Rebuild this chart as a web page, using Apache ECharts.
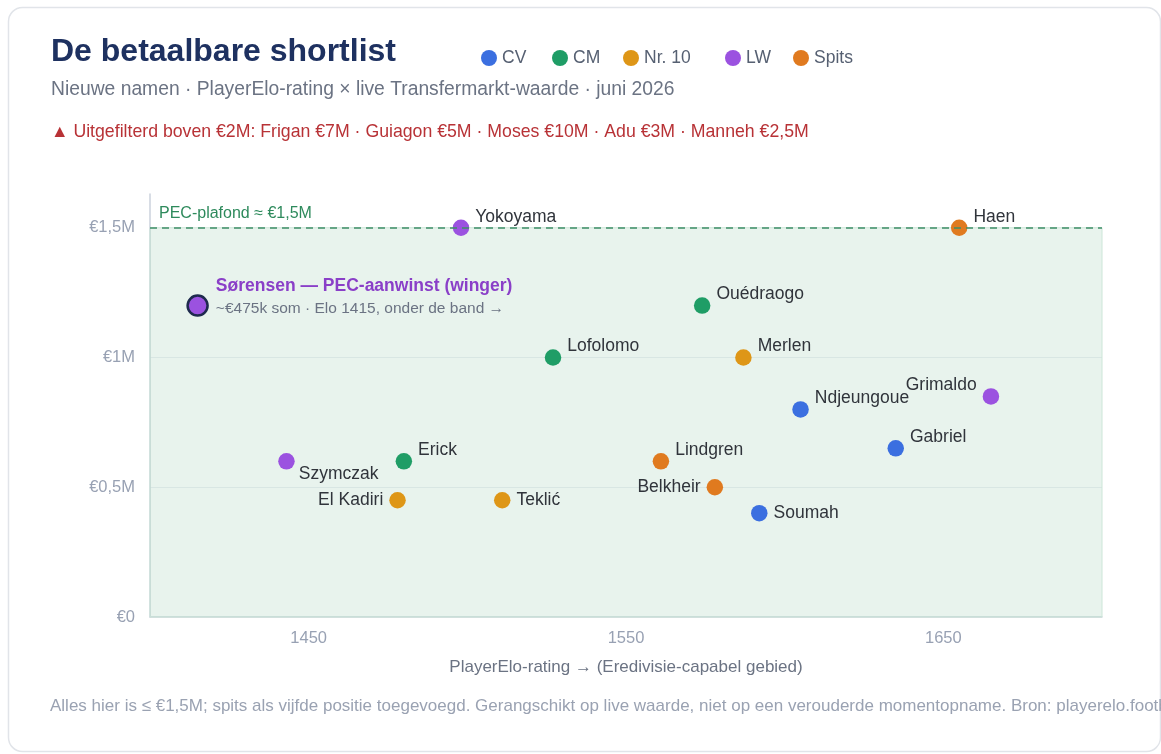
<!DOCTYPE html>
<html>
<head>
<meta charset="utf-8">
<script src="https://cdn.jsdelivr.net/npm/echarts@6/dist/echarts.min.js"></script>
<style>
  html, body { margin: 0; padding: 0; background: #fff; }
  #chart { width: 1161px; height: 754px; }
</style>
</head>
<body>
<div id="chart"></div>
<script>
// posities + kleuren
const posities = ['CV', 'CM', 'Nr. 10', 'LW', 'Spits'];
const kleuren = ['#3b6fe0', '#1f9d66', '#de9617', '#9b52e0', '#e07a1f'];

// spelers: naam, positie, PlayerElo, live waarde (x €1M)
const spelers = ['Sørensen', 'Yokoyama', 'Haen', 'Ouédraogo', 'Lofolomo', 'Merlen', 'Ndjeungoue', 'Grimaldo',
  'Gabriel', 'Lindgren', 'Belkheir', 'Soumah', 'Szymczak', 'Erick', 'El Kadiri', 'Teklić'];
const spelerPos = ['LW', 'LW', 'Spits', 'CM', 'CM', 'Nr. 10', 'CV', 'LW',
  'CV', 'Spits', 'Spits', 'CV', 'LW', 'CM', 'Nr. 10', 'Nr. 10'];
const elo = [1415, 1498, 1655, 1574, 1527, 1587, 1605, 1665, 1635, 1561, 1578, 1592, 1443, 1480, 1478, 1511];
const waarde = [1.2, 1.5, 1.5, 1.2, 1.0, 1.0, 0.8, 0.85, 0.65, 0.6, 0.5, 0.4, 0.6, 0.6, 0.45, 0.45];

const xTicks = [1450, 1550, 1650];
const plafond = 1.5;

// waar het naamlabel staat (standaard rechtsboven)
const labelPlek = {
  'Grimaldo': 'linksboven',
  'Belkheir': 'links',
  'El Kadiri': 'links',
  'Soumah': 'rechts',
  'Teklić': 'rechts',
  'Szymczak': 'rechtsonder'
};

const font = 'Liberation Sans, Arial, Helvetica, sans-serif';

function labelVoor(naam) {
  var plek = labelPlek[naam] || 'rechtsboven';
  var lab = { show: true, formatter: naam, color: '#30343b', fontSize: 17.5, fontFamily: font, distance: 6 };
  if (plek == 'rechtsboven') { lab.position = 'right'; lab.offset = [0, -11]; }
  if (plek == 'rechts') { lab.position = 'right'; lab.offset = [0, 0]; }
  if (plek == 'links') { lab.position = 'left'; lab.offset = [0, 0]; }
  if (plek == 'linksboven') { lab.position = 'left'; lab.offset = [0, -11]; }
  if (plek == 'rechtsonder') { lab.position = 'right'; lab.offset = [-2, 13]; }
  return lab;
}

function _getSerie(pos, i) {
  var temp = [];
  for (var j = 0; j < spelers.length; j++) {
    if (spelerPos[j] != pos) continue;
    var item = { name: spelers[j], value: [elo[j], waarde[j]], label: labelVoor(spelers[j]) };
    if (spelers[j] == 'Sørensen') {
      item.symbolSize = 20;
      item.itemStyle = { borderColor: '#1e2a4e', borderWidth: 2.5 };
      item.label = {
        show: true,
        position: 'right',
        distance: 7,
        offset: [0, -8],
        formatter: '{a|Sørensen — PEC-aanwinst (winger)}\n{b|~€475k som · Elo 1415, onder de band →}',
        rich: {
          a: { color: '#8a3fc8', fontSize: 17.5, fontWeight: 'bold', fontFamily: font, lineHeight: 22 },
          b: { color: '#6b7383', fontSize: 15.5, fontFamily: font, lineHeight: 22 }
        }
      };
    }
    temp.push(item);
  }
  var serie = {
    name: pos,
    type: 'scatter',
    symbolSize: 16.5,
    itemStyle: { color: kleuren[i], opacity: 1 },
    z: 3,
    data: temp
  };
  if (i == 0) {
    serie.markArea = {
      silent: true,
      itemStyle: { color: 'rgba(30,140,80,0.1)', borderColor: '#cde6d8', borderWidth: 1 },
      data: [[{ xAxis: 1400, yAxis: 0 }, { xAxis: 1700, yAxis: plafond }]]
    };
    serie.markLine = {
      silent: true,
      symbol: 'none',
      lineStyle: { color: '#3f8f68', type: [7, 5], width: 1.5 },
      label: {
        show: true,
        position: 'insideStartTop',
        formatter: 'PEC-plafond ≈ €1,5M',
        color: '#2e8a5c',
        fontSize: 16,
        fontFamily: font,
        distance: [9, 6]
      },
      data: [{ yAxis: plafond }]
    };
  }
  return serie;
}

var legendLeft = [481, 552, 623, 725, 793];
var legends = [];
for (var k = 0; k < posities.length; k++) {
  legends.push({
    data: [posities[k]],
    left: legendLeft[k],
    top: 49,
    padding: 0,
    icon: 'circle',
    itemWidth: 16,
    itemHeight: 16,
    itemGap: 8,
    selectedMode: false,
    textStyle: { color: '#566072', fontSize: 17.5, fontFamily: font }
  });
}

var series = [];
for (var s = 0; s < posities.length; s++) {
  series.push(_getSerie(posities[s], s));
}

var option = {
  animation: false,
  textStyle: { fontFamily: font },
  title: [
    {
      text: 'De betaalbare shortlist',
      left: 51, top: 36, padding: 0,
      textStyle: { color: '#1e3160', fontSize: 32, fontWeight: 'bold', fontFamily: font }
    },
    {
      text: 'Nieuwe namen · PlayerElo-rating × live Transfermarkt-waarde · juni 2026',
      left: 51, top: 80, padding: 0,
      textStyle: { color: '#6b7383', fontSize: 19.3, fontWeight: 'normal', fontFamily: font }
    },
    {
      text: '▲ Uitgefilterd boven €2M: Frigan €7M · Guiagon €5M · Moses €10M · Adu €3M · Manneh €2,5M',
      left: 51, top: 123, padding: 0,
      textStyle: { color: '#b83236', fontSize: 17.7, fontWeight: 'normal', fontFamily: font }
    },
    {
      text: 'Alles hier is ≤ €1,5M; spits als vijfde positie toegevoegd. Gerangschikt op live waarde, niet op een verouderde momentopname. Bron: playerelo.football',
      left: 50, top: 698, padding: 0,
      textStyle: { color: '#9aa2b2', fontSize: 17, fontWeight: 'normal', fontFamily: font }
    }
  ],
  legend: legends,
  graphic: [{
    type: 'rect',
    z: -10,
    shape: { x: 8.5, y: 7.5, width: 1152, height: 744, r: 14 },
    style: { fill: 'none', stroke: '#e1e4e9', lineWidth: 1.5 }
  }],
  grid: { left: 150, right: 59, top: 194, bottom: 137 },
  xAxis: {
    type: 'value',
    min: 1400,
    max: 1700,
    name: 'PlayerElo-rating → (Eredivisie-capabel gebied)',
    nameLocation: 'middle',
    nameGap: 42,
    nameTextStyle: { color: '#6b7383', fontSize: 17, fontFamily: font },
    axisLine: { show: true, lineStyle: { color: '#cbd2dd', width: 1.5 } },
    axisTick: { show: false },
    splitLine: { show: false },
    axisLabel: {
      customValues: xTicks, color: '#98a1b3', fontSize: 16.5, margin: 13, fontFamily: font,
      formatter: function (v) { return String(v); }
    }
  },
  yAxis: {
    type: 'value',
    min: 0,
    max: 1.63,
    interval: 0.5,
    axisLine: { show: true, lineStyle: { color: '#cbd2dd', width: 1.5 } },
    axisTick: { show: false },
    splitLine: {
      show: true,
      lineStyle: { color: ['#eef1f4', '#eef1f4', '#eef1f4', 'rgba(0,0,0,0)', 'rgba(0,0,0,0)'], width: 1 }
    },
    axisLabel: {
      color: '#98a1b3', fontSize: 16.5, margin: 15, fontFamily: font, showMaxLabel: false,
      formatter: function (v) {
        if (v == 0) return '€0';
        return '€' + String(v).replace('.', ',') + 'M';
      }
    }
  },
  series: series
};

var chart = echarts.init(document.getElementById('chart'), null, { renderer: 'canvas' });
chart.setOption(option);
</script>
</body>
</html>
